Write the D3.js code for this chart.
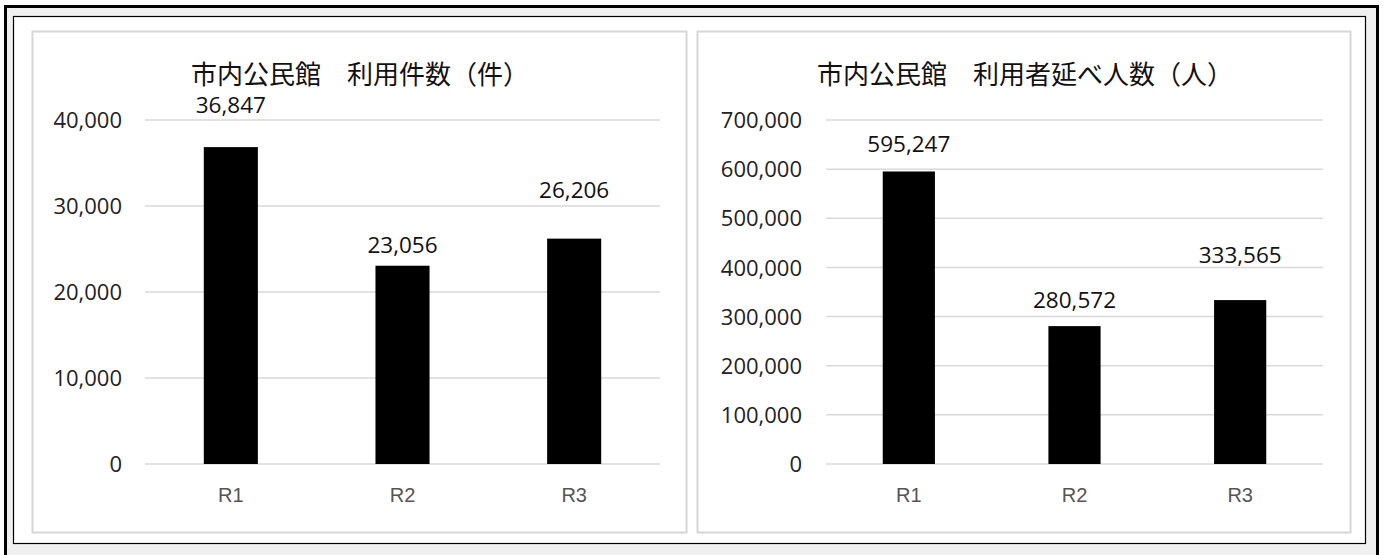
<!DOCTYPE html>
<html><head><meta charset="utf-8">
<script src="https://cdn.jsdelivr.net/npm/d3@7"></script>
<style>
html,body{margin:0;padding:0;background:#fff;}
svg{display:block;}
</style></head>
<body>
<svg id="c" width="1386" height="555"></svg>
<script>
const categories = ["R1", "R2", "R3"];
const countValues = [36847, 23056, 26206];
const visitorValues = [595247, 280572, 333565];
const countTicks = [0, 10000, 20000, 30000, 40000];
const visitorTicks = [0, 100000, 200000, 300000, 400000, 500000, 600000, 700000];
const titles = ["市内公民館\u3000利用件数（件）", "市内公民館\u3000利用者延べ人数（人）"];

const svg = d3.select("#c");
// outer frames
svg.append("rect").attr("x", 0).attr("y", 0).attr("width", 1386).attr("height", 555).attr("fill", "#fff");
svg.append("rect").attr("x", 5.5).attr("y", 6.5).attr("width", 1372).attr("height", 560)
  .attr("fill", "#f0f0f0").attr("stroke", "#000").attr("stroke-width", 3);
svg.append("rect").attr("x", 13.5).attr("y", 16.5).attr("width", 1352).attr("height", 527)
  .attr("fill", "#fff").attr("stroke", "#000").attr("stroke-width", 1.2);

const numFont = "'Open Sans','Noto Sans',sans-serif";
const fmt = d3.format(",");

function panel(cfg) {
  const g = svg.append("g");
  g.append("rect").attr("x", cfg.px + 0.5).attr("y", 31.5).attr("width", cfg.pw).attr("height", 501)
    .attr("fill", "#fff").attr("stroke", "#d6d6d6").attr("stroke-width", 2);
  g.append("text").attr("x", cfg.titleX).attr("y", 84).attr("text-anchor", "middle")
    .attr("font-family", "'Noto Sans CJK JP',sans-serif").attr("font-size", 26).attr("fill", "#111")
    .text(cfg.title);
  const x = d3.scaleBand().domain(categories).range([cfg.x0, cfg.x1])
    .paddingInner(cfg.pad).paddingOuter(cfg.pad / 2);
  const y = d3.scaleLinear().domain([0, cfg.max]).range([464, 120]);
  // grid
  g.selectAll(".grid").data(cfg.ticks).join("line")
    .attr("x1", cfg.x0).attr("x2", cfg.x1)
    .attr("y1", d => y(d)).attr("y2", d => y(d))
    .attr("stroke", "#d9d9d9").attr("stroke-width", 1.5);
  // y axis
  const ya = d3.axisLeft(y).tickValues(cfg.ticks).tickFormat(fmt).tickSize(0).tickPadding(0);
  const yg = g.append("g").attr("transform", `translate(${cfg.yLabelX},0)`).call(ya);
  yg.select(".domain").remove();
  yg.selectAll("text").attr("font-family", numFont).attr("font-size", 22).attr("fill", "#222").attr("dy", "0.35em");
  // x axis
  const xa = d3.axisBottom(x).tickSize(0).tickPadding(0);
  const xg = g.append("g").attr("transform", "translate(0,488)").call(xa);
  xg.select(".domain").remove();
  xg.selectAll("text").attr("font-family", "'Liberation Sans',Arial,sans-serif").attr("font-size", 20)
    .attr("fill", "#555").attr("dy", "0.71em");
  // bars
  g.selectAll(".bar").data(cfg.values).join("rect")
    .attr("x", (d, i) => x(categories[i]))
    .attr("width", x.bandwidth())
    .attr("y", d => y(d)).attr("height", d => y(0) - y(d))
    .attr("fill", "#000");
  // labels
  g.selectAll(".lbl").data(cfg.values).join("text")
    .attr("x", (d, i) => x(categories[i]) + x.bandwidth() / 2)
    .attr("y", (d, i) => y(d) - cfg.labelOffsets[i])
    .attr("dy", "0.35em")
    .attr("text-anchor", "middle").attr("font-family", numFont).attr("font-size", 22.5).attr("fill", "#111")
    .text(d => fmt(d));
}

panel({px: 32, pw: 654, titleX: 360, title: titles[0], x0: 145, x1: 660, pad: 0.685,
  max: 40000, ticks: countTicks, values: countValues, yLabelX: 122, labelOffsets: [42, 21, 49]});
panel({px: 697, pw: 653, titleX: 1025, title: titles[1], x0: 826, x1: 1323, pad: 0.685,
  max: 700000, ticks: visitorTicks, values: visitorValues, yLabelX: 802, labelOffsets: [27, 26, 45]});
</script>
</body></html>
